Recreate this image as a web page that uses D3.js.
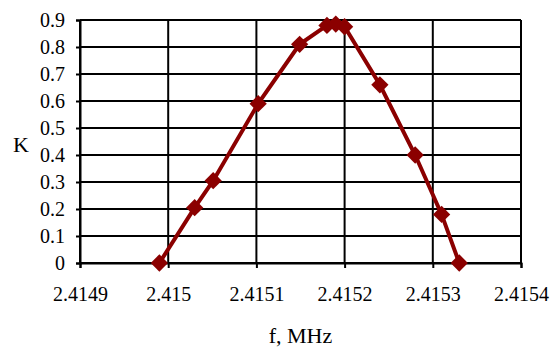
<!DOCTYPE html>
<html>
<head>
  <meta charset="utf-8">
  <script src="https://d3js.org/d3.v7.min.js"></script>
  <style>
    svg text { font-family: "Times New Roman", "Liberation Serif", serif !important; }
  </style>
</head>
<body style="margin:0">
  <script>
    var w = 555;
    var h = 349;
    var margin = {top: 20, right: 34, bottom: 86, left: 80};

    // frequency (MHz) and K values
    var freq = [2.41499, 2.41503, 2.415051, 2.415102, 2.415149, 2.41518, 2.41519, 2.4152, 2.41524, 2.41528, 2.41531, 2.41533];
    var kVal = [0, 0.205, 0.305, 0.59, 0.81, 0.88, 0.885, 0.875, 0.66, 0.40, 0.18, 0];
    var xTicks = [2.4149, 2.415, 2.4151, 2.4152, 2.4153, 2.4154];
    var yTicks = [0, 0.1, 0.2, 0.3, 0.4, 0.5, 0.6, 0.7, 0.8, 0.9];

    var data = freq.map(function(f, i) { return {f: f, k: kVal[i]}; });

    var x = d3.scaleLinear()
      .domain([2.4149, 2.4154])
      .range([margin.left, w - margin.right]);
    var y = d3.scaleLinear()
      .domain([0, 0.9])
      .range([h - margin.bottom, margin.top]);

    var svg = d3.select('body').append('svg')
      .attr('width', w)
      .attr('height', h);

    // grid
    svg.append('g').selectAll('line')
      .data(yTicks)
      .enter().append('line')
      .attr('x1', x.range()[0]).attr('x2', x.range()[1])
      .attr('y1', function(d) { return y(d); })
      .attr('y2', function(d) { return y(d); })
      .attr('stroke', '#000').attr('stroke-width', 2);
    svg.append('g').selectAll('line')
      .data(xTicks)
      .enter().append('line')
      .attr('y1', y.range()[0]).attr('y2', y.range()[1])
      .attr('x1', function(d) { return x(d); })
      .attr('x2', function(d) { return x(d); })
      .attr('stroke', '#000').attr('stroke-width', 2);

    // axes
    svg.append('g')
      .attr('transform', 'translate(0,' + y(0) + ')')
      .call(d3.axisBottom(x).tickValues(xTicks).tickSize(5).tickPadding(19)
        .tickFormat(function(d) { return String(+d.toFixed(4)); }))
      .attr('font-family', 'Times New Roman')
      .attr('font-size', 20);
    svg.append('g')
      .attr('transform', 'translate(' + x.range()[0] + ',0)')
      .call(d3.axisLeft(y).tickValues(yTicks).tickSize(4).tickPadding(11)
        .tickFormat(function(d) { return String(+d.toFixed(1)); }))
      .attr('font-family', 'Times New Roman')
      .attr('font-size', 20);
    svg.selectAll('.domain').attr('stroke', '#000').attr('stroke-width', 2);
    svg.selectAll('.tick line').attr('stroke', '#000').attr('stroke-width', 2);
    svg.selectAll('.tick text').attr('fill', '#000');

    // line
    var line = d3.line()
      .x(function(d) { return x(d.f); })
      .y(function(d) { return y(d.k); });
    svg.append('path')
      .datum(data)
      .attr('d', line)
      .attr('fill', 'none')
      .attr('stroke', '#8b0000')
      .attr('stroke-width', 4);

    // markers
    svg.selectAll('path.mark')
      .data(data)
      .enter().append('path')
      .attr('class', 'mark')
      .attr('d', d3.symbol().type(d3.symbolDiamond2).size(190))
      .attr('transform', function(d) { return 'translate(' + x(d.f) + ',' + y(d.k) + ')'; })
      .attr('fill', '#8b0000');

    svg.append('text')
      .attr('x', (x.range()[0] + x.range()[1]) / 2)
      .attr('y', 343)
      .attr('text-anchor', 'middle')
      .attr('font-size', 22)
      .text('f, MHz');
    svg.append('text')
      .attr('x', 21)
      .attr('y', 152)
      .attr('text-anchor', 'middle')
      .attr('font-size', 22)
      .text('K');
  </script>
</body>
</html>
